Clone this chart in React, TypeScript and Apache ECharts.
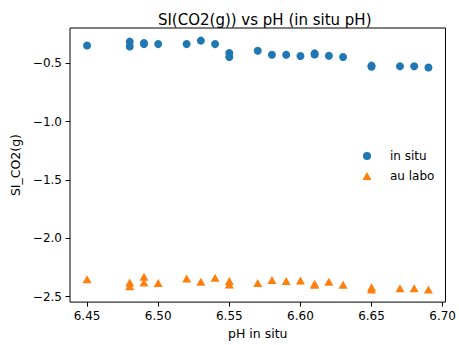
import React, { useEffect, useRef } from "react";
import * as echarts from "echarts";

const inSituPH = [6.45, 6.48, 6.48, 6.49, 6.49, 6.50, 6.52, 6.53, 6.54, 6.55, 6.55, 6.57, 6.58, 6.59, 6.60, 6.61, 6.61, 6.62, 6.63, 6.65, 6.65, 6.67, 6.68, 6.69];
const siInSitu = [-0.347, -0.314, -0.356, -0.325, -0.335, -0.335, -0.335, -0.305, -0.335, -0.412, -0.446, -0.392, -0.426, -0.426, -0.437, -0.415, -0.425, -0.435, -0.446, -0.52, -0.53, -0.525, -0.525, -0.536];
const siLabo = [-2.353, -2.379, -2.413, -2.33, -2.379, -2.384, -2.345, -2.373, -2.339, -2.367, -2.396, -2.384, -2.359, -2.367, -2.362, -2.39, -2.40, -2.373, -2.40, -2.42, -2.44, -2.43, -2.43, -2.44];
const xTicks = [6.45, 6.5, 6.55, 6.6, 6.65, 6.7];
const yTicks = [-2.5, -2.0, -1.5, -1.0, -0.5];

const FONT = "DejaVu Sans";
const TRI_ICON = "path://M0,0M36,8M18,0L22.5,8L13.5,8Z";
const CIRC_ICON = "path://M0,0M36,8M22,4A4,4,0,1,1,14,4A4,4,0,1,1,22,4Z";

export default function App() {
  const ref = useRef<HTMLDivElement>(null);
  useEffect(() => {
    if (!ref.current) return;
    const chart = echarts.init(ref.current, null, { renderer: "svg" });
    const axisCommon = {
      axisLine: { show: false },
      splitLine: { show: false },
      axisTick: { show: true, inside: false, length: 4.5, lineStyle: { color: "#000", width: 1 } },
    };
    chart.setOption({
      animation: false,
      backgroundColor: "#fff",
      title: {
        text: "SI(CO2(g)) vs pH (in situ pH)",
        left: 259.7,
        textAlign: "center",
        top: 7,
        textStyle: { fontFamily: FONT, fontSize: 15, fontWeight: "normal", color: "#000" },
      },
      grid: {
        left: 70,
        right: 10,
        top: 28,
        bottom: 39,
        show: true,
        borderColor: "#000",
        borderWidth: 1,
        backgroundColor: "transparent",
      },
      legend: {
        orient: "vertical",
        left: 349,
        top: 150,
        padding: 0,
        itemWidth: 36,
        itemHeight: 8,
        itemGap: 8,
        textStyle: { fontFamily: FONT, fontSize: 12, color: "#000" },
        data: [
          { name: "in situ", icon: CIRC_ICON },
          { name: "au labo", icon: TRI_ICON },
        ],
      },
      xAxis: {
        type: "value",
        min: 6.438,
        max: 6.702,
        name: "pH in situ",
        nameLocation: "middle",
        nameGap: 21,
        nameTextStyle: { fontFamily: FONT, fontSize: 12.5, color: "#000", verticalAlign: "top" },
        ...axisCommon,
        axisTick: { ...axisCommon.axisTick, customValues: xTicks },
        axisLabel: {
          customValues: xTicks,
          margin: 8,
          fontFamily: FONT,
          fontSize: 12,
          color: "#000",
          formatter: (v: number) => v.toFixed(2),
        },
      },
      yAxis: {
        type: "value",
        min: -2.548,
        max: -0.197,
        name: "SI_CO2(g)",
        nameLocation: "middle",
        nameGap: 42,
        nameTextStyle: { fontFamily: FONT, fontSize: 12.5, color: "#000" },
        ...axisCommon,
        axisTick: { ...axisCommon.axisTick, customValues: yTicks },
        axisLabel: {
          customValues: yTicks,
          margin: 8,
          fontFamily: FONT,
          fontSize: 12,
          color: "#000",
          formatter: (v: number) => v.toFixed(1).replace("-", "\u2212"),
        },
      },
      series: [
        {
          name: "in situ",
          type: "scatter",
          symbol: "circle",
          symbolSize: 8,
          itemStyle: { color: "#1f77b4", opacity: 1 },
          data: inSituPH.map((x, i) => [x, siInSitu[i]]),
        },
        {
          name: "au labo",
          type: "scatter",
          symbol: "triangle",
          symbolSize: [9, 8],
          itemStyle: { color: "#ff7f0e", opacity: 1 },
          data: inSituPH.map((x, i) => [x, siLabo[i]]),
        },
      ],
    });
    return () => chart.dispose();
  }, []);
  return <div ref={ref} style={{ width: 459, height: 345, position: "absolute", left: 0, top: 0 }} />;
}
